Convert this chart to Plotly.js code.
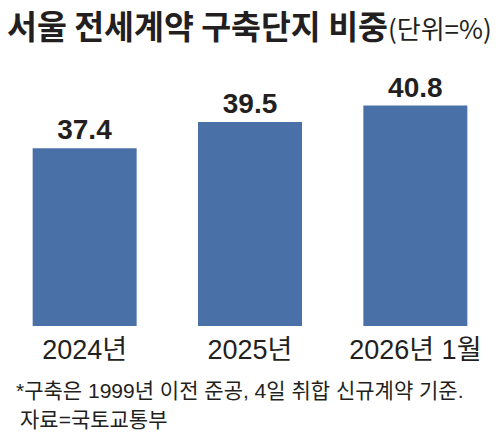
<!DOCTYPE html>
<html>
<head>
<meta charset="utf-8">
<script src="https://cdn.plot.ly/plotly-3.0.1.min.js"></script>
<style>html,body{margin:0;padding:0;background:#fff;}#chart{width:500px;height:432px;}</style>
</head>
<body>
<div id="chart"></div>
<script>
const categories = ['2024년', '2025년', '2026년 1월'];
const values = [37.4, 39.5, 40.8];
const titleMain = '서울 전세계약 구축단지 비중';
const titleUnit = '(단위=%)';
const noteLine1 = '*구축은 1999년 이전 준공, 4일 취합 신규계약 기준.';
const noteLine2 = '자료=국토교통부';

const FONT = '"Liberation Sans", "Noto Sans CJK KR", sans-serif';
const KFONT = '"Noto Sans CJK KR", sans-serif';
const INK = '#231f20';

const trace = {
  type: 'bar',
  x: categories,
  y: values,
  marker: {color: '#4a71a7'},
  text: values.map(v => v.toFixed(1)),
  textposition: 'outside',
  textfont: {family: FONT, size: 28, color: INK, weight: 700},
  cliponaxis: false,
  hoverinfo: 'none'
};

const layout = {
  width: 500, height: 432,
  margin: {l: 2, r: 2, t: 100, b: 106},
  paper_bgcolor: '#fff', plot_bgcolor: '#fff',
  bargap: 0.371,
  showlegend: false,
  title: {
    text: '<b>' + titleMain + '</b><span style="font-size:26px">' + titleUnit + '</span>',
    font: {family: KFONT, size: 32.5, color: INK},
    x: 0.014, xanchor: 'left', xref: 'container',
    y: 1 - 28/432, yanchor: 'middle', yref: 'container'
  },
  xaxis: {
    type: 'category',
    showgrid: false, zeroline: false, showline: false, ticks: '',
    tickfont: {family: FONT, size: 27, color: INK},
    ticklabelstandoff: 5
  },
  yaxis: {
    visible: false, range: [23.3, 41.24], showgrid: false, zeroline: false
  },
  annotations: [
    {xref: 'paper', yref: 'paper', x: 0.024, y: -0.285, xanchor: 'left', yanchor: 'middle',
     text: noteLine1, showarrow: false, font: {family: FONT, size: 21, color: INK}},
    {xref: 'paper', yref: 'paper', x: 0.032, y: -0.413, xanchor: 'left', yanchor: 'middle',
     text: noteLine2, showarrow: false, font: {family: FONT, size: 21, color: INK}}
  ]
};

Plotly.newPlot('chart', [trace], layout, {staticPlot: true, displayModeBar: false});
</script>
</body>
</html>
